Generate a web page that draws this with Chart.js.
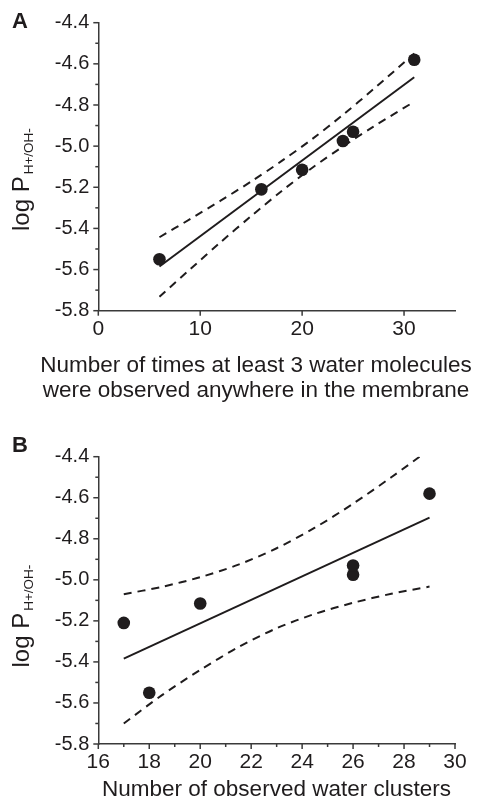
<!DOCTYPE html>
<html>
<head>
<meta charset="utf-8">
<script src="https://cdn.jsdelivr.net/npm/chart.js@4.4.1/dist/chart.umd.min.js"></script>
<style>
    body { margin: 0; background: #fff; }
    .painel { position: absolute; left: 0; }
</style>
</head>
<body>
<canvas id="grafA" class="painel" width="479" height="430" style="top:0px"></canvas>
<canvas id="grafB" class="painel" width="479" height="372" style="top:430px"></canvas>
<script>
// Valores
const logP = [-5.55, -5.21, -5.115, -4.975, -4.93, -4.58];
const vezesA = [6, 16, 20, 24, 25, 31];          // painel A
const aglomeradosB = [18, 17, 20, 26, 26, 29];   // painel B

const ajusteXA = [6, 31];
const ajusteYA = [-5.585, -4.665];
const faixaXA = [6, 9, 12, 15, 18, 21, 24, 27, 31];
const superiorA = [-5.443, -5.355, -5.265, -5.172, -5.072, -4.965, -4.848, -4.723, -4.55];
const inferiorA = [-5.732, -5.599, -5.467, -5.34, -5.218, -5.105, -5.002, -4.905, -4.784];

const ajusteXB = [17, 29];
const ajusteYB = [-5.384, -4.697];
const faixaXB = [17, 18.5, 20, 21.5, 23, 24.5, 26, 27.5, 29];
const superiorB = [-5.07, -5.034, -4.987, -4.926, -4.846, -4.746, -4.629, -4.5, -4.365];
const inferiorB = [-5.7, -5.562, -5.439, -5.328, -5.236, -5.166, -5.112, -5.068, -5.033];

const tituloXA = ['Number of times at least 3 water molecules', 'were observed anywhere in the membrane'];
const tituloXB = ['Number of observed water clusters'];

const TINTA = '#1f1c1d';
const EIXO = '#3a3a3a';
const FONTE = '"Liberation Sans", Arial, sans-serif';

function pares(xs, ys) {
    return xs.map((x, i) => ({ x: x, y: ys[i] }));
}

// ticks, letras e títulos
const extras = {
    id: 'extras',
    afterDraw(chart, args, o) {
        const ctx = chart.ctx;
        const sx = chart.scales.x, sy = chart.scales.y;
        ctx.save();
        ctx.strokeStyle = EIXO;
        ctx.lineWidth = 1.5;
        const ax = sy.right, ay = sx.top;
        function traco(x1, y1, x2, y2) {
            ctx.beginPath(); ctx.moveTo(x1, y1); ctx.lineTo(x2, y2); ctx.stroke();
        }
        sy.ticks.forEach((t, i) => {
            const py = sy.getPixelForValue(t.value);
            traco(ax - 5, py, ax, py);
            if (i < sy.ticks.length - 1) {
                const pm = sy.getPixelForValue((t.value + sy.ticks[i + 1].value) / 2);
                traco(ax - 3, pm, ax, pm);
            }
        });
        sx.ticks.forEach((t, i) => {
            const px = sx.getPixelForValue(t.value);
            traco(px, ay, px, ay + 5);
            if (o.menorX && i < sx.ticks.length - 1) {
                const pm = sx.getPixelForValue((t.value + sx.ticks[i + 1].value) / 2);
                traco(pm, ay, pm, ay + 3);
            }
        });

        ctx.fillStyle = TINTA;
        ctx.textBaseline = 'alphabetic';
        // letra do painel
        ctx.font = 'bold 22px ' + FONTE;
        ctx.textAlign = 'left';
        ctx.fillText(o.letra, 12, o.letraY);

        // titulo x
        ctx.font = '22.5px ' + FONTE;
        ctx.textAlign = 'center';
        o.tituloX.forEach((linha, i) => ctx.fillText(linha, o.tituloCx, o.tituloY + i * 25));

        // titulo y com subscrito
        ctx.translate(29, o.tituloYy);
        ctx.rotate(-Math.PI / 2);
        ctx.textAlign = 'left';
        ctx.font = '24px ' + FONTE;
        ctx.fillText('log P', 0, 0);
        const w = ctx.measureText('log P').width;
        ctx.font = '13.5px ' + FONTE;
        ctx.fillText('H+/OH-', w + 2, 3.5);
        ctx.restore();
    }
};

function criarPainel(id, cfg) {
    const H = document.getElementById(id).height;
    return new Chart(document.getElementById(id), {
        type: 'scatter',
        data: {
            datasets: [
                { data: pares(cfg.xs, logP), pointRadius: 6.3, pointBackgroundColor: TINTA, pointBorderWidth: 0, showLine: false },
                { data: pares(cfg.ajX, cfg.ajY), showLine: true, borderColor: TINTA, borderWidth: 2, pointRadius: 0 },
                { data: pares(cfg.fX, cfg.sup), showLine: true, borderColor: TINTA, borderWidth: 2, borderDash: [8, 6], pointRadius: 0, tension: 0.3 },
                { data: pares(cfg.fX, cfg.inf), showLine: true, borderColor: TINTA, borderWidth: 2, borderDash: [8, 6], pointRadius: 0, tension: 0.3 }
            ]
        },
        options: {
            responsive: false,
            animation: false,
            layout: { padding: { left: 0, right: 479 - cfg.area.right, top: cfg.area.top, bottom: 0 } },
            plugins: {
                legend: { display: false },
                tooltip: { enabled: false },
                extras: cfg.extras
            },
            scales: {
                x: {
                    type: 'linear', min: cfg.xMin, max: cfg.xMax,
                    grid: { display: false, drawTicks: false },
                    border: { display: true, color: EIXO, width: 1.5 },
                    ticks: { stepSize: cfg.xPasso, includeBounds: false, padding: 6, color: TINTA, font: { family: FONTE, size: 21 } },
                    afterFit: s => { s.height = H - cfg.area.bottom; }
                },
                y: {
                    type: 'linear', min: -5.8, max: -4.4,
                    grid: { display: false, drawTicks: false },
                    border: { display: true, color: EIXO, width: 1.5 },
                    ticks: { stepSize: 0.2, padding: 9, color: TINTA, font: { family: FONTE, size: 20 },
                        callback: v => v.toFixed(1) },
                    afterFit: s => { s.width = cfg.area.left; }
                }
            }
        },
        plugins: [extras]
    });
}

criarPainel('grafA', {
    xs: vezesA, ajX: ajusteXA, ajY: ajusteYA, fX: faixaXA, sup: superiorA, inf: inferiorA,
    xMin: 0, xMax: 35, xPasso: 10,
    area: { left: 98.3, right: 455, top: 22.7, bottom: 310.7 },
    extras: { letra: 'A', letraY: 28, tituloX: tituloXA, tituloCx: 256, tituloY: 371.7, tituloYy: 231, menorX: false }
});

criarPainel('grafB', {
    xs: aglomeradosB, ajX: ajusteXB, ajY: ajusteYB, fX: faixaXB, sup: superiorB, inf: inferiorB,
    xMin: 16, xMax: 30, xPasso: 2,
    area: { left: 98.3, right: 455, top: 26.7, bottom: 314 },
    extras: { letra: 'B', letraY: 22, tituloX: tituloXB, tituloCx: 276.5, tituloY: 366, tituloYy: 237.5, menorX: true }
});
</script>
</body>
</html>
